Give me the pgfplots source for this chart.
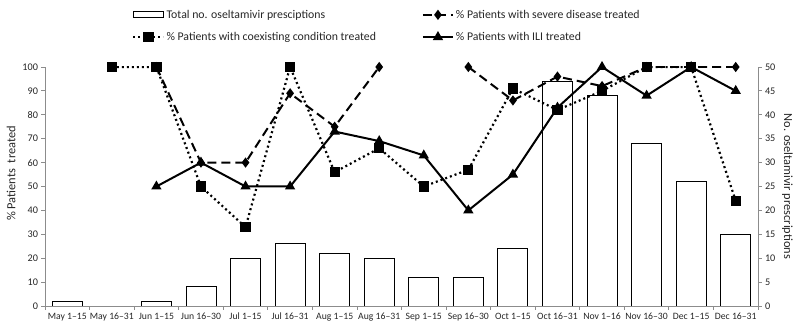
\documentclass[border=0pt]{standalone}
\usepackage{pgfplots}
\pgfplotsset{compat=1.18}
\usepackage{fontspec}
\setmainfont{Carlito}
\setsansfont{Carlito}
\begin{document}
\begin{tikzpicture}[font=\sffamily]
\pgfplotsset{every axis/.append style={
  scale only axis, width=713pt, height=239pt, xmin=-0.5, xmax=15.5,
  /pgf/number format/assume math mode=true,
  tick label style={font=\fontsize{10.2}{12}\selectfont, text=black!85},
  label style={font=\fontsize{12.4}{14}\selectfont, text=black!85},
  axis line style={draw=black!45, line width=0.8pt},
  tick style={draw=black!45, line width=0.8pt},
  tick align=outside, major tick length=3.5pt,
}}
% Right axis with bars
\begin{axis}[name=ax2,
  axis y line*=right, axis x line=none,
  ymin=0, ymax=50, ytick={0,5,...,50},
  ylabel={No. oseltamivir prescriptions},
  ylabel style={rotate=180},
]
\addplot[ybar, bar width=30pt, fill=white, draw=black, line width=0.9pt]
 coordinates {(0,1)(2,1)(3,4)(4,10)(5,13)(6,11)(7,10)(8,6)(9,6)(10,12)(11,47)(12,44)(13,34)(14,26)(15,15)};
\end{axis}
% Left axis with lines
\begin{axis}[name=ax,
  axis y line*=left, axis x line*=bottom,
  ymin=0, ymax=100, ytick={0,10,...,100},
  ylabel={\% Patients\ \ treated},
  ylabel style={xshift=13pt},
  xtick={-0.5,0.5,...,15.5},
  x tick label as interval,
  x tick label style={font=\fontsize{9.7}{12}\selectfont},
  xticklabels={May 1--15,May 16--31,Jun 1--15,Jun 16--30,Jul 1--15,Jul 16--31,Aug 1--15,Aug 16--31,Sep 1--15,Sep 16--30,Oct 1--15,Oct 16--31,Nov 1--16,Nov 16--30,Dec 1--15,Dec 16--31},
  unbounded coords=jump,
  legend columns=2,
  legend cell align=left,
  legend image code/.code={\draw[mark repeat=2,mark phase=2] plot coordinates {(0pt,0pt)(15pt,0pt)(30pt,0pt)};},
  legend style={draw=none, fill=none, at={(0.118,1.256)}, anchor=north west,
    font=\fontsize{11.8}{14}\selectfont, text=black!85,
    /tikz/every even column/.append style={column sep=44pt}, row sep=8.5pt},
]
\addlegendimage{legend image code/.code={\draw[fill=white,draw=black,line width=0.8pt] (0pt,-3pt) rectangle (30pt,3pt);}}
\addlegendentry{Total no. oseltamivir presciptions}
\addplot[black, line width=2pt, dash pattern=on 9pt off 5pt, mark=diamond*, mark size=3.5pt, mark options={solid}]
 coordinates {(2,100)(3,60)(4,60)(5,89)(6,75)(7,100)(8,nan)(9,100)(10,86)(11,96)(12,92)(13,100)(14,100)(15,100)};
\addlegendentry{\% Patients with severe disease treated}
\addplot[black, line width=2.2pt, dash pattern=on 2pt off 3pt, mark=square*, mark size=4pt, mark options={solid}]
 coordinates {(1,100)(2,100)(3,50)(4,33)(5,100)(6,56)(7,66)(8,50)(9,57)(10,91)(11,82)(12,90)(13,100)(14,100)(15,44)};
\addlegendentry{\% Patients with coexisting condition treated}
\addplot[black, line width=2pt, mark=triangle*, mark size=4pt, mark options={solid}]
 coordinates {(2,50)(3,60)(4,50)(5,50)(6,73)(7,69)(8,63)(9,40)(10,55)(11,83)(12,100)(13,88)(14,100)(15,90)};
\addlegendentry{\% Patients with ILI treated}
\end{axis}
\pgfresetboundingbox
\path[use as bounding box] ([shift={(-45pt,-26pt)}]ax.south west) rectangle ([shift={(42pt,67pt)}]ax.north east);
\end{tikzpicture}
\end{document}
